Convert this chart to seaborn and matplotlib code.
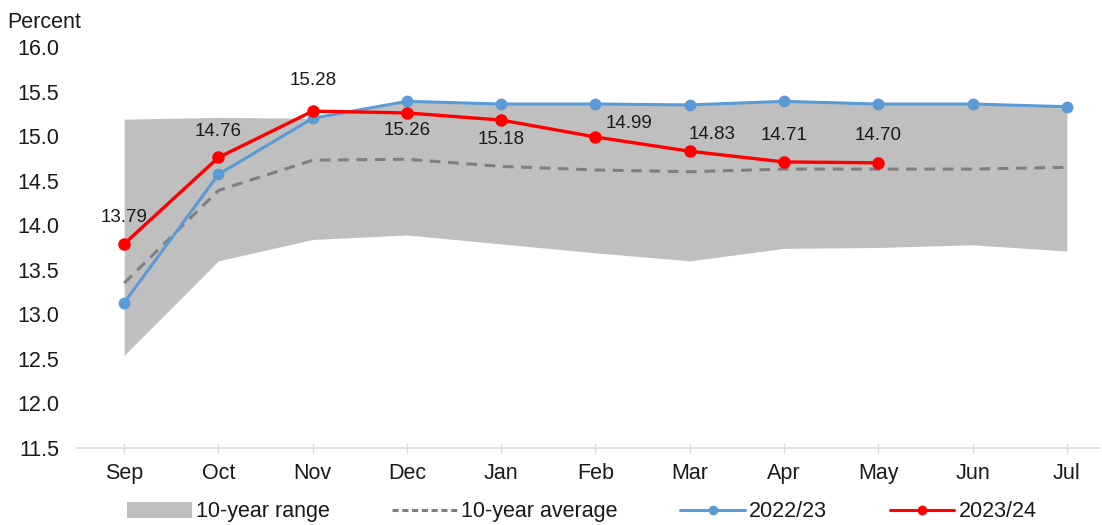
import numpy as np
import pandas as pd
import matplotlib
matplotlib.use("Agg")
import matplotlib.pyplot as plt
from matplotlib.patches import Patch
from matplotlib.lines import Line2D
import seaborn as sns

# Monthly series, marketing year Sep-Jul
months = ["Sep", "Oct", "Nov", "Dec", "Jan", "Feb", "Mar", "Apr", "May", "Jun", "Jul"]
range_low = [12.54, 13.60, 13.84, 13.89, 13.79, 13.69, 13.60, 13.74, 13.75, 13.78, 13.71]
range_high = [15.19, 15.21, 15.20, 15.39, 15.36, 15.36, 15.35, 15.39, 15.36, 15.36, 15.33]
avg_10yr = [13.35, 14.39, 14.73, 14.74, 14.66, 14.62, 14.60, 14.63, 14.63, 14.63, 14.65]
y2022_23 = [13.13, 14.57, 15.20, 15.39, 15.36, 15.36, 15.35, 15.39, 15.36, 15.36, 15.33]
y2023_24 = [13.79, 14.76, 15.28, 15.26, 15.18, 14.99, 14.83, 14.71, 14.70]

# label offsets (points) for the 2023/24 values
label_offsets = [(0, 19), (0, 19), (0, 22), (0, -13), (0, -14), (24, 10), (16, 12), (0, 19), (0, 20)]

sns.set_theme(style="white")
plt.rcParams["font.family"] = ["Liberation Sans", "DejaVu Sans"]

fig = plt.figure(figsize=(11.02, 5.25), dpi=100)
ax = fig.add_axes([0.0699, 0.1467, 0.9281, 0.7638])

x = np.arange(len(months))
df = pd.DataFrame({"x": x, "low": range_low, "high": range_high,
                   "avg": avg_10yr, "prev": y2022_23})
df_cur = pd.DataFrame({"x": x[:len(y2023_24)], "cur": y2023_24})

ax.fill_between(df["x"], df["low"], df["high"], color="#BFBFBF", linewidth=0, zorder=1)
sns.lineplot(data=df, x="x", y="avg", ax=ax, color="#7F7F7F", linewidth=2.2,
             linestyle=(0, (3.5, 2.5)), zorder=2)
sns.lineplot(data=df, x="x", y="prev", ax=ax, color="#5B9BD5", linewidth=2.2,
             marker="o", markersize=8.5, markeredgewidth=0, zorder=3)
sns.lineplot(data=df_cur, x="x", y="cur", ax=ax, color="#FF0000", linewidth=2.4,
             marker="o", markersize=9, markeredgewidth=0, zorder=4)

for xi, v, (dx, dy) in zip(df_cur["x"], y2023_24, label_offsets):
    ax.annotate(f"{v:.2f}", (xi, v), xytext=(dx, dy), textcoords="offset points",
                ha="center", va="center", fontsize=13.5, color="#1a1a1a", zorder=5)

ax.set_xlim(-0.5, 10.35)
ax.set_ylim(11.5, 16.0)
ax.set_yticks(np.arange(11.5, 16.01, 0.5))
ax.set_yticklabels([f"{t:.1f}" for t in np.arange(11.5, 16.01, 0.5)])
ax.set_xticks(x)
ax.set_xticklabels(months)
ax.set_xlabel("")
ax.set_ylabel("")

for s in ["top", "right", "left"]:
    ax.spines[s].set_visible(False)
ax.spines["bottom"].set_color("#D9D9D9")
ax.spines["bottom"].set_linewidth(1.2)
ax.tick_params(axis="x", direction="inout", length=7, width=1, color="#D9D9D9",
               labelsize=15.5, labelcolor="#1a1a1a", pad=7, bottom=True)
ax.tick_params(axis="y", length=0, labelsize=15.5, labelcolor="#1a1a1a", pad=13)
ax.grid(False)

fig.text(0.007, 0.958, "Percent", fontsize=15.5, color="#1a1a1a", ha="left", va="center")

handles = [
    Patch(facecolor="#BFBFBF", edgecolor="none"),
    Line2D([], [], color="#7F7F7F", linewidth=2.2, linestyle=(0, (2, 1.2))),
    Line2D([], [], color="#5B9BD5", linewidth=2.2, marker="o", markersize=7, markeredgewidth=0),
    Line2D([], [], color="#FF0000", linewidth=2.2, marker="o", markersize=7, markeredgewidth=0),
]
labels = ["10-year range", "10-year average", "2022/23", "2023/24"]
fig.legend(handles, labels, loc="center", bbox_to_anchor=(0.528, 0.025), ncol=4,
           frameon=False, fontsize=15.5, handlelength=3.0, handleheight=0.75,
           handletextpad=0.2, columnspacing=2.9, labelcolor="#1a1a1a")

fig.savefig("out.png", dpi=100)
